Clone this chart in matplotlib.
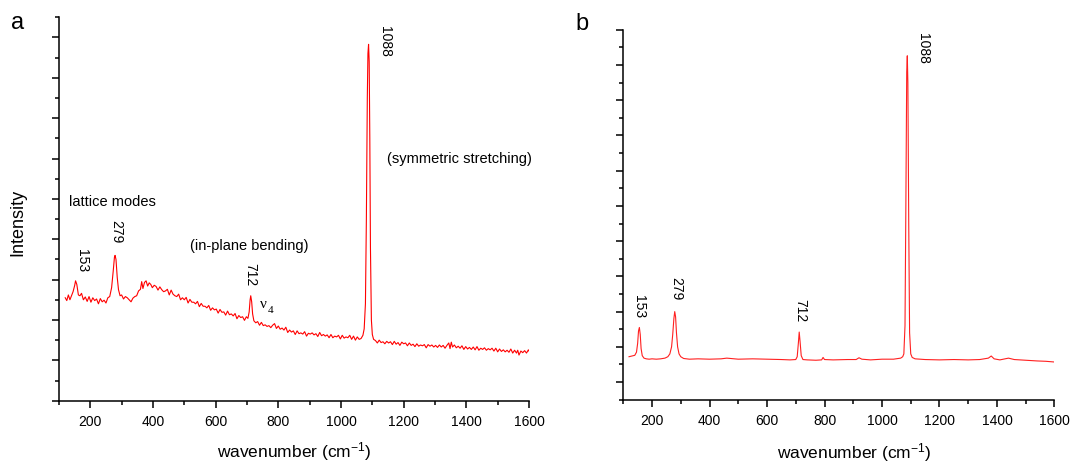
import matplotlib

matplotlib.use("Agg")
import matplotlib.pyplot as plt
from matplotlib.ticker import MultipleLocator, NullFormatter

plt.rcParams["font.family"] = ["Liberation Sans", "DejaVu Sans"]

# Spectrum a (noisy), wavenumber in cm-1 and intensity in arbitrary units
wn_a = [
    120, 125, 130, 135, 140, 145, 150, 153, 157, 162, 167, 172, 178, 184, 190,
    196, 202, 208, 214, 220, 226, 232, 238, 244, 250, 256, 262, 268, 273, 277,
    279, 282, 286, 290, 295, 300, 306, 312, 318, 324, 330, 336, 342, 348, 354,
    360, 364, 368, 373, 378, 383, 388, 393, 398, 404, 410, 416, 422, 428, 434,
    440, 446, 452, 458, 464, 470, 476, 482, 488, 494, 500, 506, 512, 518, 524,
    530, 536, 542, 548, 554, 560, 566, 572, 578, 584, 590, 596, 602, 608, 614,
    620, 626, 632, 638, 644, 650, 656, 662, 668, 674, 680, 686, 692, 698, 703,
    707, 710, 712, 715, 718, 722, 728, 734, 740, 746, 752, 758, 764, 770, 776,
    782, 788, 794, 800, 806, 812, 818, 824, 830, 836, 842, 848, 854, 860, 866,
    872, 878, 884, 890, 896, 902, 908, 914, 920, 926, 932, 938, 944, 950, 956,
    962, 968, 974, 980, 986, 992, 998, 1004, 1010, 1016, 1022, 1028, 1034, 1040,
    1046, 1052, 1058, 1064, 1070, 1074, 1078, 1081, 1084, 1086, 1088, 1090,
    1092, 1094, 1097, 1100, 1104, 1110, 1116, 1122, 1128, 1134, 1140, 1146,
    1152, 1158, 1164, 1170, 1176, 1182, 1188, 1194, 1200, 1206, 1212, 1218,
    1224, 1230, 1236, 1242, 1248, 1254, 1260, 1266, 1272, 1278, 1284, 1290,
    1296, 1302, 1308, 1314, 1320, 1326, 1332, 1338, 1344, 1348, 1352, 1356,
    1362, 1368, 1374, 1380, 1386, 1392, 1398, 1404, 1410, 1416, 1422, 1428,
    1434, 1440, 1446, 1452, 1458, 1464, 1470, 1476, 1482, 1488, 1494, 1500,
    1506, 1512, 1518, 1524, 1530, 1536, 1542, 1548, 1554, 1560, 1564, 1568,
    1574, 1580, 1586, 1592, 1598, 1600,
]
int_a = [
    2.55, 2.48, 2.62, 2.50, 2.60, 2.70, 2.85, 2.97, 2.88, 2.62, 2.60, 2.66, 2.50, 2.57, 2.46,
    2.58, 2.44, 2.55, 2.48, 2.52, 2.40, 2.53, 2.45, 2.49, 2.42, 2.55, 2.58, 2.80, 3.20, 3.55,
    3.60, 3.50, 3.05, 2.75, 2.60, 2.62, 2.52, 2.58, 2.55, 2.50, 2.45, 2.54, 2.58, 2.60, 2.72,
    2.76, 2.95, 2.78, 2.93, 2.97, 2.84, 2.92, 2.88, 2.80, 2.86, 2.83, 2.74, 2.82, 2.75, 2.70,
    2.72, 2.76, 2.62, 2.74, 2.64, 2.60, 2.58, 2.64, 2.50, 2.55, 2.50, 2.56, 2.42, 2.51, 2.44,
    2.44, 2.40, 2.46, 2.33, 2.41, 2.34, 2.34, 2.30, 2.36, 2.24, 2.30, 2.25, 2.27, 2.17, 2.26,
    2.19, 2.20, 2.12, 2.22, 2.13, 2.15, 2.10, 2.16, 2.03, 2.11, 2.06, 2.08, 1.99, 2.08, 2.04,
    2.20, 2.50, 2.60, 2.45, 2.15, 1.98, 1.93, 1.96, 1.87, 1.94, 1.86, 1.88, 1.84, 1.86, 1.81,
    1.87, 1.91, 1.79, 1.85, 1.77, 1.80, 1.75, 1.82, 1.69, 1.75, 1.70, 1.73, 1.64, 1.73, 1.66,
    1.68, 1.65, 1.71, 1.60, 1.67, 1.65, 1.68, 1.63, 1.66, 1.59, 1.69, 1.61, 1.64, 1.60, 1.63,
    1.56, 1.64, 1.56, 1.60, 1.58, 1.62, 1.53, 1.62, 1.55, 1.58, 1.56, 1.62, 1.52, 1.60,
    1.50, 1.58, 1.52, 1.54, 1.62, 1.78, 2.40, 4.50, 7.50, 8.60, 8.83, 8.40,
    6.50, 3.80, 2.00, 1.64, 1.52, 1.49, 1.43, 1.50, 1.44, 1.46, 1.41, 1.47,
    1.43, 1.46, 1.39, 1.47, 1.40, 1.44, 1.37, 1.45, 1.41, 1.43, 1.36, 1.43,
    1.37, 1.40, 1.34, 1.41, 1.35, 1.38, 1.36, 1.39, 1.31, 1.39, 1.35, 1.38,
    1.33, 1.37, 1.32, 1.38, 1.33, 1.37, 1.30, 1.37, 1.43, 1.29, 1.45, 1.33,
    1.38, 1.31, 1.35, 1.30, 1.36, 1.27, 1.34, 1.28, 1.32, 1.27, 1.33, 1.26,
    1.34, 1.25, 1.30, 1.27, 1.31, 1.25, 1.29, 1.26, 1.30, 1.23, 1.30, 1.21,
    1.28, 1.22, 1.26, 1.21, 1.25, 1.20, 1.28, 1.18, 1.25, 1.18, 1.25, 1.13,
    1.23, 1.19, 1.24, 1.18, 1.26, 1.23,
]

# Spectrum b (cleaner)
wn_b = [
    120, 130, 140, 146, 150, 153, 156, 159, 162, 166, 172, 180, 190, 200, 215,
    230, 245, 255, 262, 268, 272, 276, 279, 282, 285, 289, 294, 300, 310, 330,
    360, 400, 440, 460, 500, 550, 600, 650, 680, 700, 705, 709, 712, 715, 719,
    725, 740, 770, 790, 795, 800, 830, 880, 910, 920, 930, 960, 1000, 1040,
    1065, 1072, 1076, 1080, 1083, 1086, 1088, 1090, 1093, 1096, 1100, 1105,
    1115, 1150, 1200, 1250, 1300, 1340, 1370, 1380, 1390, 1410, 1440, 1460,
    1500, 1540, 1570, 1600,
]
int_b = [
    0.72, 0.74, 0.76, 0.85, 1.10, 1.45, 1.55, 1.35, 0.95, 0.75, 0.68, 0.66, 0.65, 0.66, 0.65,
    0.66, 0.68, 0.72, 0.80, 1.00, 1.35, 1.80, 2.00, 1.85, 1.40, 1.00, 0.80, 0.72, 0.67, 0.65,
    0.66, 0.65, 0.66, 0.68, 0.65, 0.66, 0.65, 0.64, 0.63, 0.64, 0.72, 1.10, 1.42, 1.15, 0.75,
    0.64, 0.63, 0.62, 0.63, 0.70, 0.64, 0.63, 0.64, 0.64, 0.69, 0.65, 0.63, 0.65, 0.65,
    0.68, 0.72, 0.80, 1.60, 5.00, 8.80, 9.26, 8.50, 4.50, 1.40, 0.80, 0.70,
    0.66, 0.64, 0.63, 0.64, 0.63, 0.64, 0.68, 0.74, 0.66, 0.63, 0.68, 0.64,
    0.62, 0.60, 0.59, 0.57,
]

# peak labels (text, x, y) in data coordinates
peaks_a = [("153", 174, 3.78), ("279", 284, 4.50), ("712", 712, 3.43), ("1088", 1140, 9.32)]
peaks_b = [("153", 156, 2.49), ("279", 286, 3.01), ("712", 715, 2.38), ("1088", 1141, 9.94)]


def style_axis(ax, ylim):
    ax.set_xlim(100, 1600)
    ax.set_ylim(*ylim)
    for side in ("top", "right"):
        ax.spines[side].set_visible(False)
    for side in ("left", "bottom"):
        ax.spines[side].set_linewidth(1.1)
    ax.xaxis.set_major_locator(MultipleLocator(200))
    ax.xaxis.set_minor_locator(MultipleLocator(100))
    ax.yaxis.set_major_locator(MultipleLocator(1))
    ax.yaxis.set_minor_locator(MultipleLocator(0.5))
    ax.yaxis.set_major_formatter(NullFormatter())
    ax.tick_params(which="major", direction="out", length=5, width=1.1, labelsize=10, pad=4.5)
    ax.tick_params(which="minor", direction="out", length=3, width=1.1)
    ax.set_xlabel("wavenumber (cm$\\mathregular{^{-1}}$)", fontsize=12.5, va="center")


fig = plt.figure(figsize=(10.7, 4.64), dpi=100)
ax1 = fig.add_axes([0.0551, 0.1343, 0.4393, 0.8263])
ax2 = fig.add_axes([0.5825, 0.1364, 0.4030, 0.7974])

ax1.plot(wn_a, int_a, color="#ff0000", lw=0.8)
ax2.plot(wn_b, int_b, color="#ff2020", lw=0.8)

style_axis(ax1, (0, 9.5))
style_axis(ax2, (-0.5, 10))
ax1.xaxis.set_label_coords(0.501, -0.129)
ax2.xaxis.set_label_coords(0.535, -0.139)
ax1.set_ylabel("Intensity", fontsize=13, va="center")
ax1.yaxis.set_label_coords(-0.087, 0.467)

for ax, peaks in ((ax1, peaks_a), (ax2, peaks_b)):
    for label, x, y in peaks:
        ax.text(x, y, label, rotation=-90, ha="center", va="top", fontsize=10)

ax1.text(133, 4.94, "lattice modes", fontsize=10.5, va="center")
ax1.text(519, 3.85, "(in-plane bending)", fontsize=10.5, va="center")
ax1.text(1146, 6.02, "(symmetric stretching)", fontsize=10.5, va="center")
ax1.text(742, 2.40, "ν", family="Liberation Serif", fontsize=11, va="center")
ax1.text(765, 2.25, "4", family="Liberation Serif", fontsize=8, va="center")

fig.text(11 / 1070, 1 - 29 / 464, "a", fontsize=17)
fig.text(575 / 1070, 1 - 30 / 464, "b", fontsize=17)

plt.savefig("out.png", dpi=100)
